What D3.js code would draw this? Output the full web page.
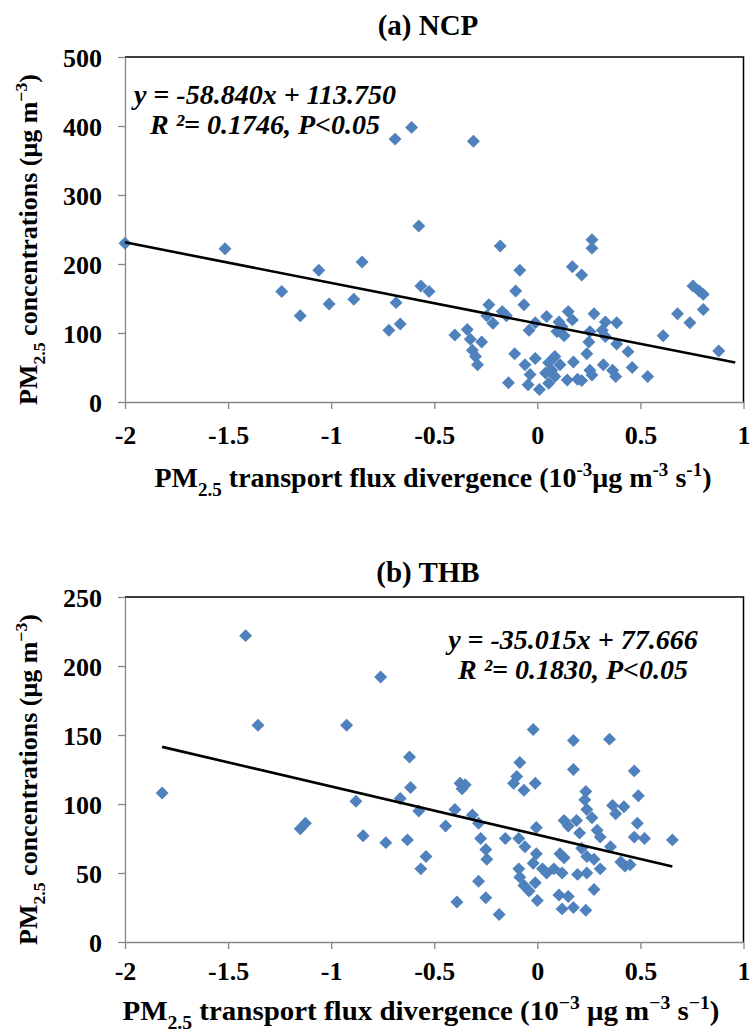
<!DOCTYPE html>
<html>
<head>
<meta charset="utf-8">
<script src="https://cdn.jsdelivr.net/npm/d3@7"></script>
<style>
  body { margin: 0; background: #fff; }
  text { font-family: "Liberation Serif", "Times New Roman", serif; font-weight: bold; fill: #000; }
  .axis path, .axis line { stroke: #868686; stroke-width: 1.3; }
  .axis text { font-size: 26px; font-family: "Liberation Serif", "Times New Roman", serif; font-weight: bold; }
</style>
</head>
<body>
<div id="chart"></div>
<script>
// values: [flux divergence, PM2.5]
var ncpPoints = [
  [-2.00,230],[-1.515,222],[-1.24,160],[-1.15,125],[-1.06,191],[-1.01,142],[-0.89,149],[-0.85,203],
  [-0.69,381],[-0.61,398],[-0.72,104],[-0.665,113],[-0.685,144],[-0.575,255],[-0.565,168],[-0.525,160],
  [-0.31,378],[-0.18,226],[-0.085,191],[-0.105,161],[-0.065,141],[-0.235,141],[-0.245,125],[-0.215,114],
  [-0.17,131],[-0.15,125],[-0.40,97],[-0.34,105],[-0.325,91],[-0.27,87],[-0.315,75],[-0.30,66],
  [-0.29,54],[-0.11,70],[-0.14,28],[-0.06,54],[-0.035,40],[-0.045,25],[-0.01,63],[0.01,18],
  [-0.04,104],[-0.01,115],[0.045,124],[0.105,116],[0.15,131],[0.17,119],[0.12,109],[0.095,102],
  [0.13,96],[0.17,196],[0.215,184],[0.265,235],[0.265,223],[0.275,128],[0.33,116],[0.385,115],
  [0.255,102],[0.315,104],[0.33,95],[0.25,87],[0.24,70],[0.385,84],[0.44,73],[0.055,57],
  [0.085,66],[0.11,54],[0.175,58],[0.07,46],[0.04,42],[0.085,37],[0.055,27],[0.145,32],
  [0.195,33],[0.215,31],[0.255,46],[0.265,39],[0.32,54],[0.365,46],[0.38,37],[0.46,50],
  [0.535,37],[0.61,96],[0.68,128],[0.74,115],[0.755,168],[0.785,161],[0.805,156],[0.805,134],
  [0.88,74]
];

var thbPoints = [
  [-1.82,108],[-1.415,222],[-1.355,157],[-0.925,157],[-0.76,192],[-1.15,82],[-1.125,86],[-0.88,102],
  [-0.845,77],[-0.735,72],[-0.62,134],[-0.615,112],[-0.665,104],[-0.575,95],[-0.63,74],[-0.54,62],
  [-0.565,53],[-0.40,96],[-0.445,84],[-0.375,115],[-0.35,114],[-0.365,111],[-0.315,92],[-0.285,86],
  [-0.275,75],[-0.25,67],[-0.245,60],[-0.285,44],[-0.39,29],[-0.25,32],[-0.185,20],[-0.155,75],
  [-0.085,130],[-0.10,120],[-0.115,115],[-0.065,110],[-0.01,115],[-0.02,154],[-0.09,75],[-0.06,69],
  [-0.005,83],[-0.005,64],[-0.09,53],[-0.085,47],[-0.065,41],[-0.04,37],[-0.01,43],[0.0,30],
  [-0.02,57],[0.025,53],[0.045,50],[0.08,53],[0.11,64],[0.13,61],[0.12,50],[0.195,49],
  [0.24,50],[0.105,34],[0.15,33],[0.12,24],[0.175,25],[0.235,23],[0.275,38],[0.175,146],
  [0.175,125],[0.35,147],[0.13,88],[0.15,84],[0.19,88],[0.205,79],[0.235,109],[0.23,103],
  [0.24,96],[0.265,90],[0.29,81],[0.305,76],[0.215,68],[0.24,62],[0.275,60],[0.305,53],
  [0.355,69],[0.365,99],[0.38,93],[0.42,98],[0.47,124],[0.49,106],[0.485,86],[0.47,76],
  [0.52,75],[0.405,58],[0.425,55],[0.45,56],[0.655,74]
];

// linear fits [slope, intercept] and the x range the trend line covers
var ncpFit = [-58.840, 113.750];
var thbFit = [-35.015, 77.666];
var ncpLineX = [-2.0, 0.96];
var thbLineX = [-1.82, 0.655];

var xTicks = [-2, -1.5, -1, -0.5, 0, 0.5, 1];
var ncpYTicks = [0, 100, 200, 300, 400, 500];
var thbYTicks = [0, 50, 100, 150, 200, 250];

var ncpEquation = ['y = -58.840x + 113.750', 'R \u00b2= 0.1746, P<0.05'];
var thbEquation = ['y = -35.015x + 77.666', 'R \u00b2= 0.1830, P<0.05'];

// rich text pieces: [text, 'sub' | 'sup' | undefined]
var yTitleParts = [['PM'], ['2.5', 'sub'], [' concentrations (\u03bcg m'], ['\u22123', 'sup'], [')']];
var ncpXTitleParts = [['PM'], ['2.5', 'sub'], [' transport flux divergence (10'], ['-3', 'sup'],
  ['\u03bcg m'], ['-3', 'sup'], [' s'], ['-1', 'sup'], [')']];
var thbXTitleParts = [['PM'], ['2.5', 'sub'], [' transport flux divergence (10'], ['\u22123', 'sup'],
  [' \u03bcg m'], ['\u22123', 'sup'], [' s'], ['\u22121', 'sup'], [')']];

// set the dimensions of the page
var width = 753, height = 1032;
var plotLeft = 125, plotRight = 743.5;

var svg = d3.select('#chart')
  .append('svg')
    .attr('width', width)
    .attr('height', height);

function addRichText(el, parts, size) {
  var shift = 0;
  parts.forEach(function(pt) {
    var target = pt[1] == 'sub' ? size * 0.32 : pt[1] == 'sup' ? -size * 0.38 : 0;
    el.append('tspan')
      .attr('dy', target - shift)
      .style('font-size', (pt[1] ? size * 0.68 : size) + 'px')
      .text(pt[0]);
    shift = target;
  });
}

function drawPanel(p) {
  var x = d3.scaleLinear().domain([-2, 1]).range([plotLeft, plotRight]);
  var y = d3.scaleLinear().domain([0, p.yMax]).range([p.bottom, p.top]);

  // plot area border (top and right)
  svg.append('path')
    .attr('d', `M${plotLeft},${p.top}H${plotRight}V${p.bottom}`)
    .attr('fill', 'none')
    .attr('stroke', '#000')
    .attr('stroke-width', 1.5);

  var yAxis = d3.axisLeft(y)
    .tickValues(p.yTicks)
    .tickFormat(d => String(d))
    .tickSize(7)
    .tickSizeOuter(0)
    .tickPadding(16);

  svg.append('g')
    .attr('class', 'axis')
    .attr('transform', `translate(${plotLeft},0)`)
    .call(yAxis)
    .selectAll('text')
    .attr('dy', '0.36em');

  var xAxis = d3.axisBottom(x)
    .tickValues(xTicks)
    .tickFormat(d => String(d))
    .tickSize(7)
    .tickSizeOuter(0)
    .tickPadding(p.xPad);

  svg.append('g')
    .attr('class', 'axis')
    .attr('transform', `translate(0,${p.bottom})`)
    .call(xAxis);

  // diamond markers
  var diamond = d3.symbol().type(d3.symbolSquare).size(84);
  svg.append('g')
    .selectAll('path.pt')
    .data(p.points)
    .enter()
    .append('path')
      .attr('class', 'pt')
      .attr('d', diamond)
      .attr('transform', d => `translate(${x(d[0])},${y(d[1])}) rotate(45)`)
      .style('fill', '#4F81BD');

  // trend line on top of the markers
  var line = d3.line()
    .x(d => x(d))
    .y(d => y(p.fit[0] * d + p.fit[1]));

  svg.append('path')
    .datum(p.lineX)
    .attr('d', line)
    .attr('fill', 'none')
    .attr('stroke', '#000')
    .attr('stroke-width', 2.6);

  // panel title
  svg.append('text')
    .attr('x', 428)
    .attr('y', p.titleY)
    .attr('text-anchor', 'middle')
    .style('font-size', '29px')
    .text(p.title);

  // equation
  p.equation.forEach(function(t, i) {
    svg.append('text')
      .attr('x', p.eqX)
      .attr('y', p.eqY + i * 30)
      .attr('text-anchor', 'middle')
      .style('font-size', '28px')
      .style('font-style', 'italic')
      .text(t);
  });

  // y title
  var yt = svg.append('text')
    .attr('transform', `translate(37,${(p.top + p.bottom) / 2 + 10}) rotate(-90)`)
    .attr('text-anchor', 'middle');
  addRichText(yt, yTitleParts, 26);

  // x title
  var xt = svg.append('text')
    .attr('x', p.xTitleX)
    .attr('y', p.xTitleY)
    .attr('text-anchor', 'middle')
    .attr('textLength', p.xTitleLen)
    .attr('lengthAdjust', 'spacingAndGlyphs');
  addRichText(xt, p.xTitleParts, 28);
}

drawPanel({
  title: '(a) NCP', titleY: 35,
  top: 57, bottom: 402, yMax: 500, yTicks: ncpYTicks,
  points: ncpPoints, fit: ncpFit, lineX: ncpLineX,
  equation: ncpEquation, eqX: 265, eqY: 104,
  xPad: 17, xTitleParts: ncpXTitleParts, xTitleX: 433, xTitleY: 487, xTitleLen: 557
});

drawPanel({
  title: '(b) THB', titleY: 582,
  top: 597, bottom: 942, yMax: 250, yTicks: thbYTicks,
  points: thbPoints, fit: thbFit, lineX: thbLineX,
  equation: thbEquation, eqX: 573, eqY: 649,
  xPad: 13, xTitleParts: thbXTitleParts, xTitleX: 421, xTitleY: 1020, xTitleLen: 597
});
</script>
</body>
</html>
